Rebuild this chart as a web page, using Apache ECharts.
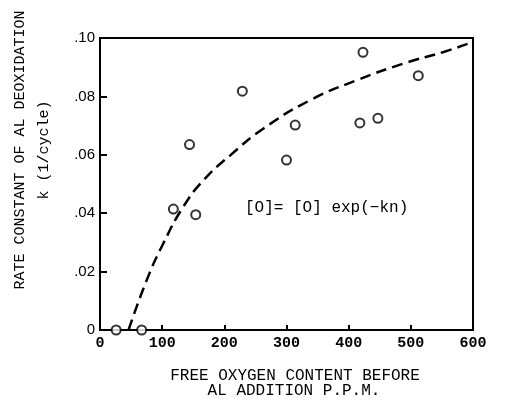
<!DOCTYPE html>
<html>
<head>
<meta charset="utf-8">
<script src="https://cdn.jsdelivr.net/npm/echarts@6/dist/echarts.min.js"></script>
<style>
html,body{margin:0;padding:0;background:#fff;}
#chart{width:509px;height:401px;}
</style>
</head>
<body>
<div id="chart"></div>
<script>
// Measured data points (free oxygen ppm, rate constant k)
var pointX = [26, 67, 118, 144, 154, 229, 300, 314, 418, 423, 447, 512];
var pointY = [0, 0, 0.0414, 0.0635, 0.0395, 0.0818, 0.0582, 0.0702, 0.0709, 0.0951, 0.0725, 0.0871];
// Dashed fitted curve
var curveX = [46, 75, 102, 134, 167, 210, 263, 339, 414, 489, 554, 600];
var curveY = [0, 0.017, 0.0297, 0.0422, 0.0514, 0.0599, 0.069, 0.0788, 0.0856, 0.0913, 0.0953, 0.0987];
// Tick labels
var xTickLabels = ['0', '100', '200', '300', '400', '500', '600'];
var yTickLabels = ['0', '.02', '.04', '.06', '.08', '.10'];
// Texts
var yTitle1 = 'RATE CONSTANT OF AL DEOXIDATION';
var yTitle2 = 'k (1/cycle)';
var xTitle1 = 'FREE OXYGEN CONTENT BEFORE';
var xTitle2 = 'AL ADDITION P.P.M.';
var formula = '[O]= [O] exp(\u2212kn)';

function zip(a, b) { return a.map(function (v, i) { return [v, b[i]]; }); }

var chart = echarts.init(document.getElementById('chart'), null, {renderer: 'canvas'});
var mono = '"Liberation Mono", "DejaVu Sans Mono", monospace';
chart.setOption({
  animation: false,
  backgroundColor: '#fff',
  grid: {left: 100, right: 36, top: 38, bottom: 71, show: true, borderColor: '#000', borderWidth: 2},
  xAxis: {
    type: 'value', min: 0, max: 600, interval: 100,
    axisLine: {lineStyle: {color: '#000', width: 2}},
    axisTick: {inside: true, length: 5, lineStyle: {color: '#000', width: 2}},
    splitLine: {show: false},
    axisLabel: {
      color: '#000', fontFamily: mono, fontWeight: 'bold', fontSize: 15, margin: 6,
      formatter: function (v) { return xTickLabels[Math.round(v / 100)]; }
    }
  },
  yAxis: {
    type: 'value', min: 0, max: 0.1, interval: 0.02,
    axisLine: {lineStyle: {color: '#000', width: 2}},
    axisTick: {inside: true, length: 7, lineStyle: {color: '#000', width: 2}},
    splitLine: {show: false},
    axisLabel: {
      color: '#000', fontFamily: '"Liberation Sans", Arial, sans-serif', fontSize: 15, margin: 5,
      formatter: function (v) { return yTickLabels[Math.round(v / 0.02)]; }
    }
  },
  series: [
    {
      type: 'line', data: zip(curveX, curveY), smooth: 0.5, showSymbol: false,
      lineStyle: {color: '#000', width: 2.5, type: [11, 6]}, z: 3
    },
    {
      type: 'scatter', data: zip(pointX, pointY), symbol: 'circle', symbolSize: 9,
      itemStyle: {color: '#fff', borderColor: '#000', borderWidth: 2}, z: 4
    }
  ],
  graphic: [
    {type: 'text', x: 20, y: 150, rotation: Math.PI / 2,
     style: {text: yTitle1, font: '15px ' + mono, fill: '#000', align: 'center', verticalAlign: 'middle'}},
    {type: 'text', x: 44, y: 150, rotation: Math.PI / 2,
     style: {text: yTitle2, font: '15px ' + mono, fill: '#000', align: 'center', verticalAlign: 'middle'}},
    {type: 'text', x: 295, y: 376,
     style: {text: xTitle1, font: '16px ' + mono, fill: '#000', align: 'center', verticalAlign: 'middle'}},
    {type: 'text', x: 294, y: 391,
     style: {text: xTitle2, font: '16px ' + mono, fill: '#000', align: 'center', verticalAlign: 'middle'}},
    {type: 'text', x: 245, y: 208,
     style: {text: formula, font: '16px ' + mono, fill: '#000', align: 'left', verticalAlign: 'middle'}}
  ]
});
</script>
</body>
</html>
